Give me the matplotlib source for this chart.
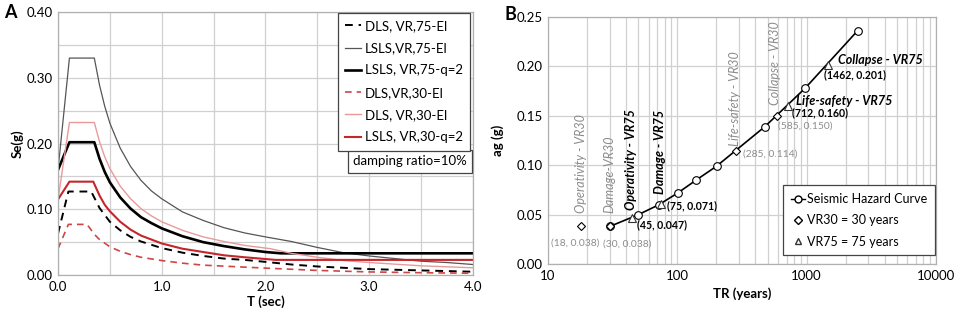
import numpy as np
import matplotlib
matplotlib.use("Agg")
import matplotlib.pyplot as plt
from matplotlib.ticker import MultipleLocator, LogLocator, NullFormatter, FixedLocator
from matplotlib.lines import Line2D

plt.rcParams['font.family'] = ['Lato', 'DejaVu Sans']

# ---- panel A: response spectra ----
t_dls75 = [0, 0.10, 0.32, 0.4, 0.5, 0.6, 0.7, 0.8, 1.0, 1.2, 1.4, 1.6, 1.8, 2.0, 2.25, 2.5, 3.0, 3.5, 4.0]
se_dls75 = [0.063, 0.127, 0.127, 0.102, 0.081, 0.068, 0.058, 0.051, 0.041, 0.034, 0.029, 0.025, 0.023, 0.020, 0.016, 0.013, 0.009, 0.007, 0.005]

t_lsls75 = [0, 0.11, 0.35, 0.4, 0.45, 0.5, 0.6, 0.7, 0.8, 0.9, 1.0, 1.2, 1.4, 1.6, 1.8, 2.0, 2.25, 2.5, 2.75, 3.0, 3.25, 3.5, 3.75, 4.0]
se_lsls75 = [0.160, 0.330, 0.330, 0.289, 0.257, 0.231, 0.193, 0.165, 0.144, 0.128, 0.116, 0.096, 0.083, 0.072, 0.064, 0.058, 0.051, 0.042, 0.034, 0.029, 0.025, 0.021, 0.019, 0.016]

t_lsls75q = [0, 0.11, 0.35, 0.4, 0.45, 0.5, 0.6, 0.7, 0.8, 0.9, 1.0, 1.2, 1.4, 1.6, 1.8, 2.0, 2.15, 4.0]
se_lsls75q = [0.160, 0.202, 0.202, 0.177, 0.157, 0.141, 0.118, 0.101, 0.088, 0.079, 0.071, 0.059, 0.050, 0.044, 0.039, 0.035, 0.033, 0.033]

t_dls30 = [0, 0.10, 0.28, 0.35, 0.4, 0.5, 0.6, 0.7, 0.8, 1.0, 1.2, 1.4, 1.6, 1.8, 2.0, 2.5, 3.0, 3.5, 4.0]
se_dls30 = [0.040, 0.077, 0.077, 0.062, 0.054, 0.043, 0.036, 0.031, 0.027, 0.022, 0.018, 0.015, 0.0135, 0.012, 0.0105, 0.007, 0.0047, 0.0035, 0.0027]

t_el30 = [0, 0.11, 0.35, 0.4, 0.45, 0.5, 0.6, 0.7, 0.8, 0.9, 1.0, 1.2, 1.4, 1.6, 1.8, 2.05, 2.25, 2.5, 2.75, 3.0, 3.5, 4.0]
se_el30 = [0.115, 0.232, 0.232, 0.203, 0.180, 0.162, 0.135, 0.116, 0.101, 0.090, 0.081, 0.068, 0.058, 0.051, 0.045, 0.040, 0.033, 0.027, 0.022, 0.019, 0.014, 0.011]

t_lsls30q = [0, 0.11, 0.34, 0.4, 0.45, 0.5, 0.6, 0.7, 0.8, 0.9, 1.0, 1.2, 1.4, 1.6, 1.8, 2.1, 4.0]
se_lsls30q = [0.115, 0.142, 0.142, 0.121, 0.107, 0.097, 0.081, 0.069, 0.060, 0.054, 0.048, 0.040, 0.035, 0.030, 0.027, 0.023, 0.023]

# ---- panel B: hazard curve ----
tr_curve = [30, 50, 72, 101, 140, 201, 475, 975, 2475]
ag_curve = [0.038, 0.050, 0.060, 0.072, 0.085, 0.099, 0.139, 0.178, 0.236]
tr_vr30 = [18, 30, 285, 585]
ag_vr30 = [0.038, 0.038, 0.114, 0.150]
tr_vr75 = [45, 75, 712, 1462]
ag_vr75 = [0.047, 0.061, 0.160, 0.201]
lbl_vr30 = ["(18, 0.038)", "(30, 0.038)", "(285, 0.114)", "(585, 0.150)"]
lbl_vr75 = ["(45, 0.047)", "(75, 0.071)", "(712, 0.160)", "(1462, 0.201)"]

grid_c = "#d0d0d0"
spine_c = "#b0b0b0"

fig = plt.figure(figsize=(9.59, 3.26), dpi=100)
axA = fig.add_axes([0.0605, 0.1564, 0.4325, 0.8066])
axB = fig.add_axes([0.5714, 0.190, 0.4046, 0.758])

# panel A
axA.plot(t_dls75, se_dls75, color="black", lw=1.4, ls=(0, (4, 3)), label="DLS, VR,75-El")
axA.plot(t_lsls75, se_lsls75, color="#555555", lw=0.9, label="LSLS,VR,75-El")
axA.plot(t_lsls75q, se_lsls75q, color="black", lw=1.9, label="LSLS, VR,75-q=2")
axA.plot(t_dls30, se_dls30, color="#d04545", lw=1.2, ls=(0, (4, 3)), label="DLS,VR,30-El")
axA.plot(t_el30, se_el30, color="#e89a9a", lw=1.0, label="DLS, VR,30-El")
axA.plot(t_lsls30q, se_lsls30q, color="#c4262c", lw=1.5, label="LSLS, VR,30-q=2")

axA.set_xlim(0, 4)
axA.set_ylim(0, 0.4)
axA.xaxis.set_major_locator(MultipleLocator(1.0))
axA.xaxis.set_minor_locator(MultipleLocator(0.5))
axA.yaxis.set_major_locator(MultipleLocator(0.1))
axA.yaxis.set_minor_locator(MultipleLocator(0.05))
axA.xaxis.set_major_formatter(lambda v, p: f"{v:.1f}")
axA.yaxis.set_major_formatter(lambda v, p: f"{v:.2f}")
axA.grid(True, which="both", color=grid_c, lw=0.9)
axA.set_axisbelow(True)
axA.set_xlabel("T (sec)", fontsize=9.5, fontweight="bold", labelpad=2)
axA.set_ylabel("Se(g)", fontsize=9.5, fontweight="bold", labelpad=2)

leg = axA.legend(loc="upper right", bbox_to_anchor=(0.993, 0.998), fontsize=9.5,
                 frameon=True, fancybox=False, edgecolor="#444444", framealpha=1,
                 handlelength=1.2, handletextpad=0.3, labelspacing=0.78,
                 borderpad=0.55, borderaxespad=0)
leg.get_frame().set_linewidth(0.9)
axA.text(0.985, 0.432, "damping ratio=10%", transform=axA.transAxes, ha="right", va="center",
         fontsize=9.5, bbox=dict(boxstyle="square,pad=0.4", fc="white", ec="#444444", lw=0.9))

# panel B
axB.plot(tr_curve, ag_curve, color="black", lw=1.2, marker="o", ms=5.5, mfc="white", mec="black", mew=0.8, zorder=3)
axB.plot(tr_vr30, ag_vr30, ls="none", marker="D", ms=4, mfc="white", mec="black", mew=0.8, zorder=4)
axB.plot(tr_vr75, ag_vr75, ls="none", marker="^", ms=5.5, mfc="white", mec="#333333", mew=0.8, zorder=4)

axB.set_xscale("log")
axB.set_xlim(10, 10000)
axB.set_ylim(0, 0.25)
axB.xaxis.set_major_locator(FixedLocator([10, 100, 1000, 10000]))
axB.xaxis.set_major_formatter(lambda v, p: f"{int(v)}")
axB.xaxis.set_minor_locator(LogLocator(base=10, subs=np.arange(2, 10)))
axB.xaxis.set_minor_formatter(NullFormatter())
axB.yaxis.set_major_locator(MultipleLocator(0.05))
axB.yaxis.set_major_formatter(lambda v, p: f"{v:.2f}")
axB.grid(True, which="both", axis="x", color=grid_c, lw=0.9)
axB.grid(True, which="major", axis="y", color=grid_c, lw=0.9)
axB.set_axisbelow(True)
axB.set_xlabel("TR (years)", fontsize=9.5, fontweight="bold", labelpad=4)
axB.set_ylabel("ag (g)", fontsize=9.5, fontweight="bold", labelpad=9)

gray_t = "#8c8c8c"
offs30 = [(-21.5, -12), (-5, -12.5), (5, -2), (1, -7.7)]
for x, y, s, o in zip(tr_vr30, ag_vr30, lbl_vr30, offs30):
    axB.annotate(s, (x, y), xytext=o, textcoords="offset points", fontsize=7.4,
                 color=gray_t, ha="left", va="center")
offs75 = [(3.3, -5.3), (4.5, -1.5), (3.5, -4.8), (-3, -7)]
for x, y, s, o in zip(tr_vr75, ag_vr75, lbl_vr75, offs75):
    axB.annotate(s, (x, y), xytext=o, textcoords="offset points", fontsize=7.6,
                 color="black", fontweight="bold", ha="left", va="center")

# rotated state labels
axB.text(18, 0.052, "Operativity - VR30", rotation=90, ha="center", va="bottom",
         fontsize=9, style="italic", color=gray_t)
axB.text(30, 0.052, "Damage-VR30", rotation=90, ha="center", va="bottom",
         fontsize=9, style="italic", color=gray_t)
axB.text(44, 0.055, "Operativity - VR75", rotation=90, ha="center", va="bottom",
         fontsize=9, style="italic", fontweight="bold", color="black")
axB.text(74, 0.071, "Damage - VR75", rotation=90, ha="center", va="bottom",
         fontsize=9, style="italic", fontweight="bold", color="black")
axB.text(278, 0.119, "Life-safety - VR30", rotation=90, ha="center", va="bottom",
         fontsize=9, style="italic", color=gray_t)
axB.text(567, 0.161, "Collapse - VR30", rotation=90, ha="center", va="bottom",
         fontsize=9, style="italic", color=gray_t)
axB.text(1754, 0.206, "Collapse - VR75", ha="left", va="center",
         fontsize=9, style="italic", fontweight="bold", color="black")
axB.text(830, 0.165, "Life-safety - VR75", ha="left", va="center",
         fontsize=9, style="italic", fontweight="bold", color="black")

handles = [
    Line2D([], [], color="black", lw=1.0, marker="o", ms=5, mfc="white", mec="black"),
    Line2D([], [], ls="none", marker="D", ms=4, mfc="white", mec="black"),
    Line2D([], [], ls="none", marker="^", ms=5, mfc="white", mec="#333333"),
]
legB = axB.legend(handles, ["Seismic Hazard Curve", "VR30 = 30 years", "VR75 = 75 years"],
                  loc="lower right", bbox_to_anchor=(0.997, 0.036), fontsize=9,
                  frameon=True, fancybox=False, edgecolor="#444444", framealpha=1,
                  handlelength=1.1, handletextpad=0.2, labelspacing=0.75,
                  borderpad=0.6, borderaxespad=0)
legB.get_frame().set_linewidth(0.9)

for ax in (axA, axB):
    for sp in ax.spines.values():
        sp.set_color(spine_c)
        sp.set_linewidth(0.9)
    ax.tick_params(which="both", length=0, labelsize=9.5, pad=4)

fig.text(0.004, 0.962, "A", fontsize=13, fontweight="bold", va="center", ha="left")
fig.text(0.526, 0.955, "B", fontsize=13, fontweight="bold", va="center", ha="left")

fig.savefig("out.png", dpi=100)
